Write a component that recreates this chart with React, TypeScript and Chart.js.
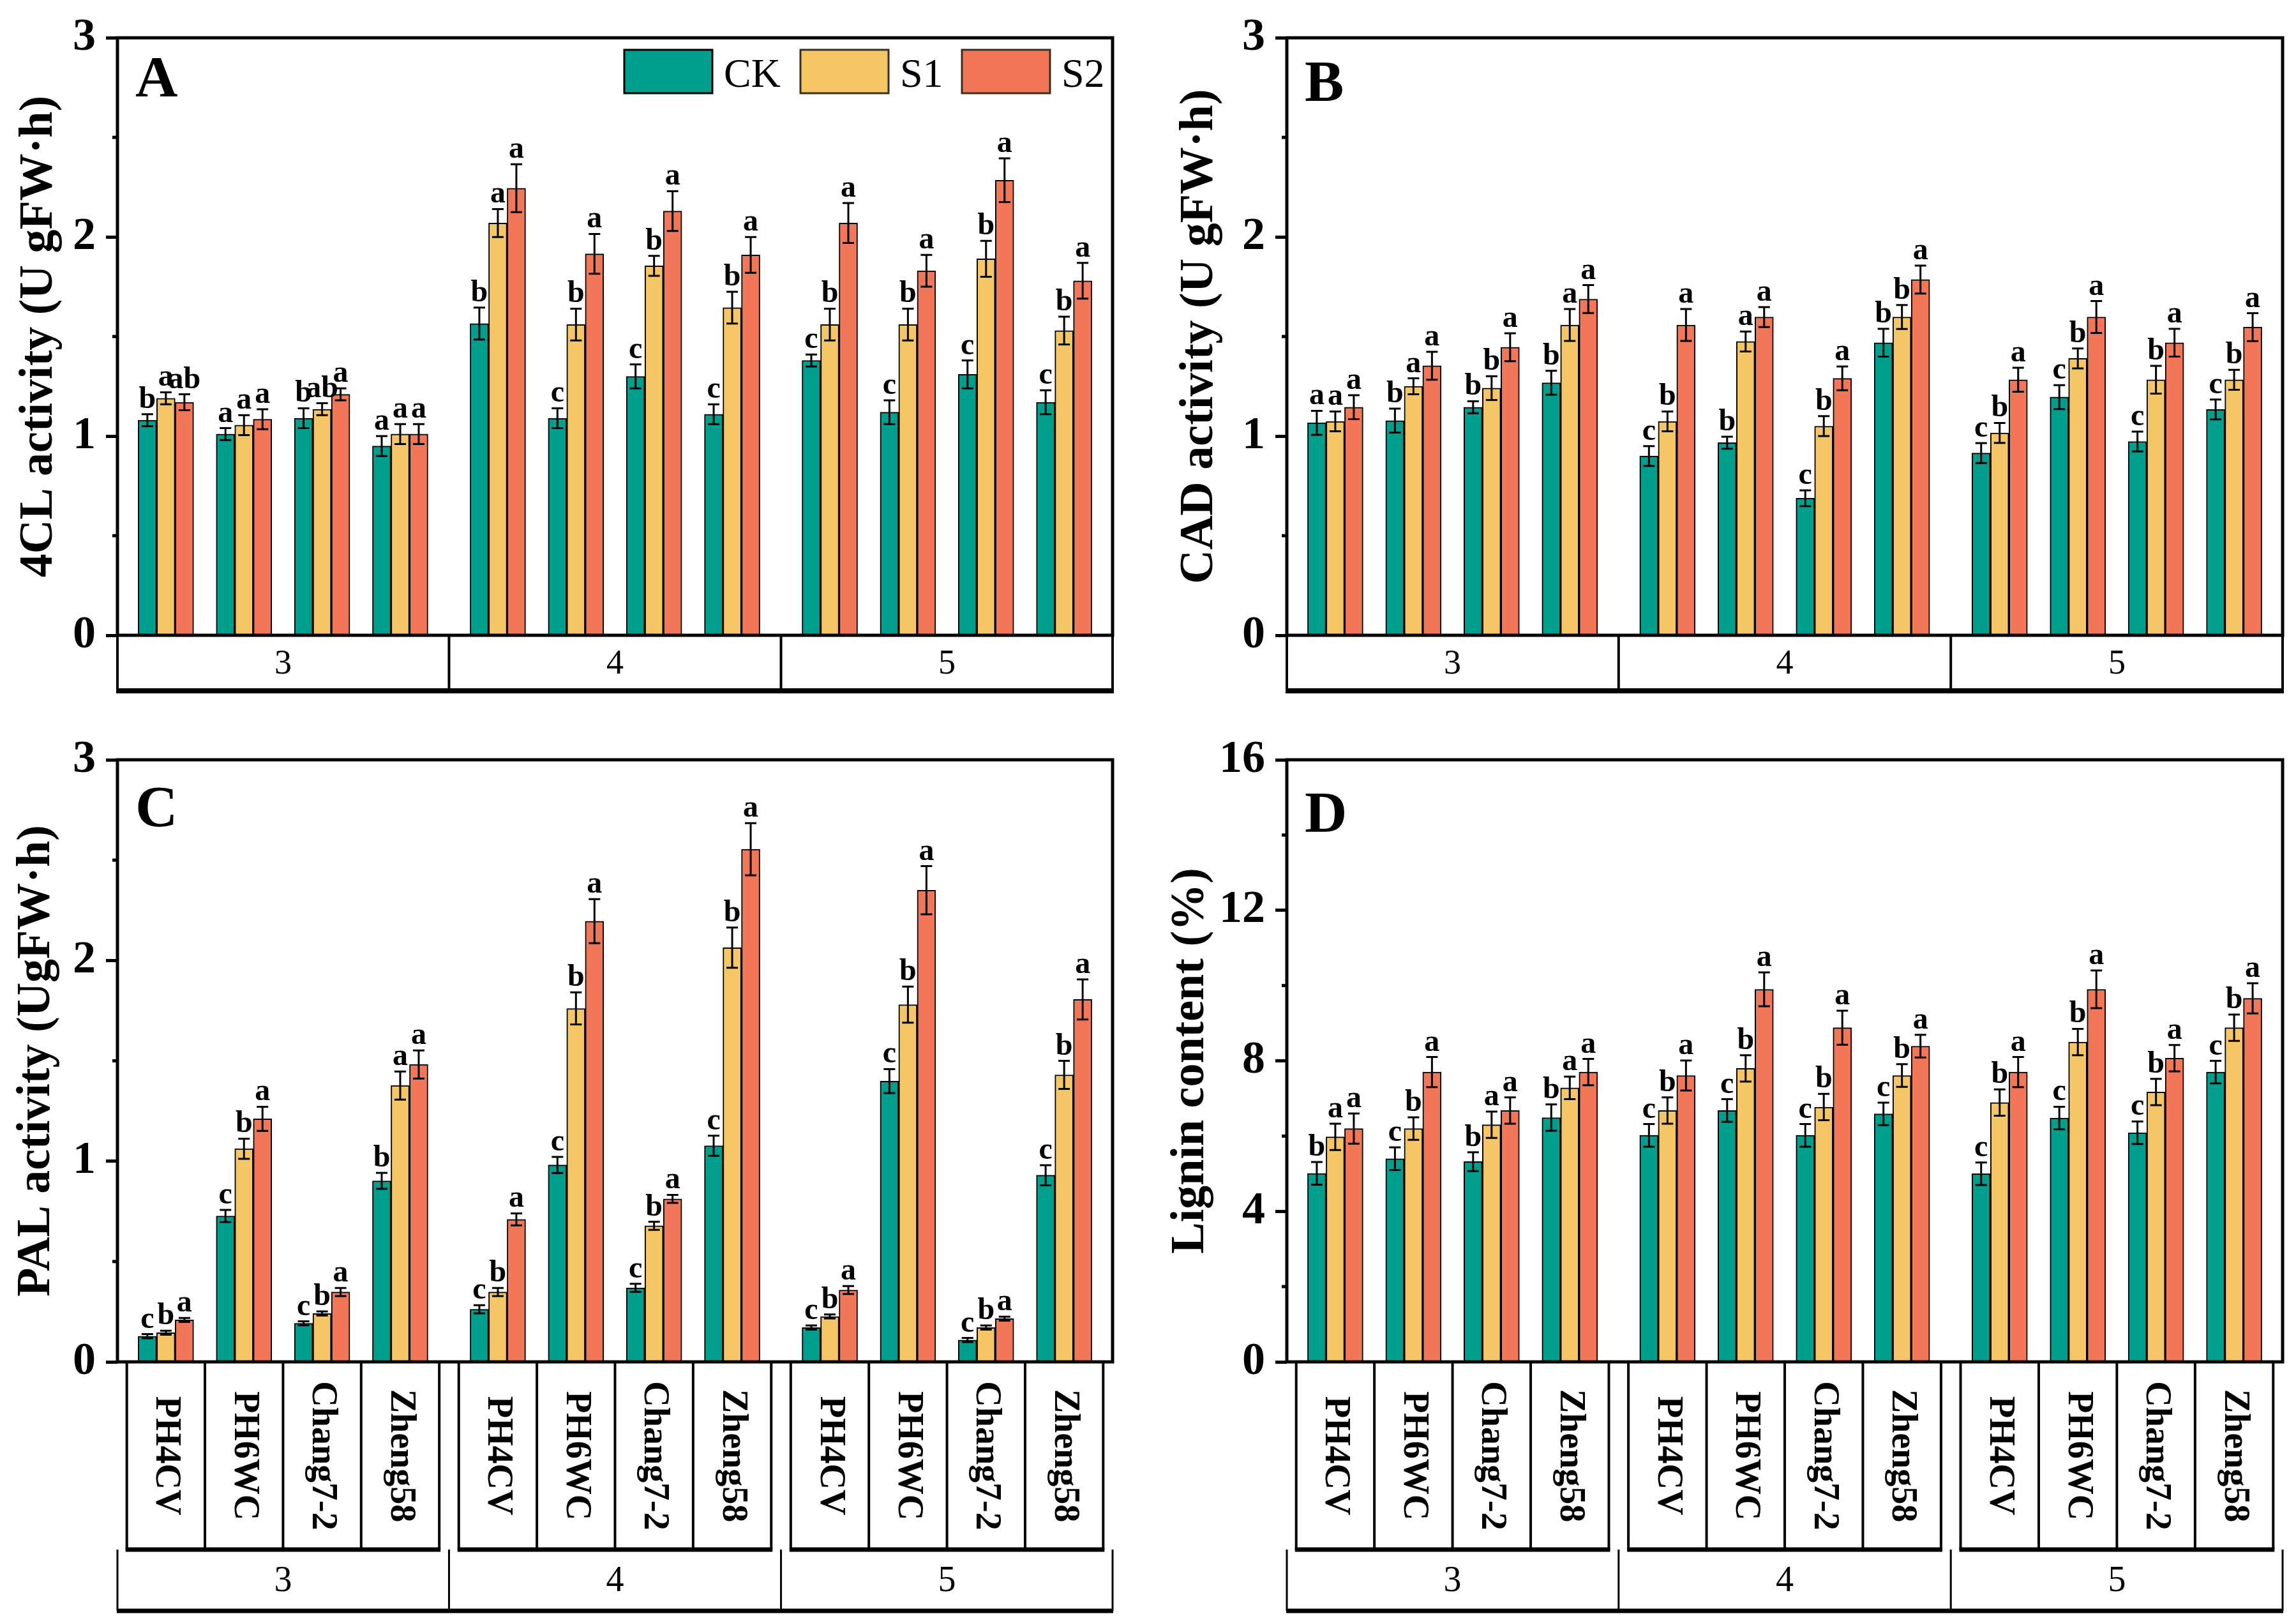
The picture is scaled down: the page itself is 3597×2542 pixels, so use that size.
import React, { useEffect, useRef } from 'react';
import { Chart, registerables } from 'chart.js';

Chart.register(...registerables);

// ---------- data ----------
const groups = ['3', '4', '5'];
const varieties = ['PH4CV', 'PH6WC', 'Chang7-2', 'Zheng58'];
const seriesNames = ['CK', 'S1', 'S2'];
const seriesColors = ['#009E8C', '#F5C665', '#F27758'];

// A: 4CL activity
const cl4CK = [1.08, 1.01, 1.09, 0.95, 1.565, 1.09, 1.3, 1.11, 1.38, 1.12, 1.31, 1.17];
const cl4S1 = [1.19, 1.055, 1.135, 1.01, 2.07, 1.56, 1.855, 1.645, 1.56, 1.56, 1.89, 1.53];
const cl4S2 = [1.17, 1.085, 1.21, 1.01, 2.245, 1.915, 2.13, 1.91, 2.07, 1.83, 2.285, 1.78];
const cl4CKErr = [0.03, 0.03, 0.05, 0.05, 0.08, 0.05, 0.06, 0.05, 0.03, 0.06, 0.07, 0.06];
const cl4S1Err = [0.03, 0.05, 0.03, 0.05, 0.07, 0.08, 0.05, 0.08, 0.08, 0.08, 0.09, 0.07];
const cl4S2Err = [0.04, 0.05, 0.03, 0.05, 0.12, 0.1, 0.1, 0.09, 0.1, 0.08, 0.11, 0.09];
const cl4CKSig = ['b', 'a', 'b', 'a', 'b', 'c', 'c', 'c', 'c', 'c', 'c', 'c'];
const cl4S1Sig = ['a', 'a', 'ab', 'a', 'a', 'b', 'b', 'b', 'b', 'b', 'b', 'b'];
const cl4S2Sig = ['ab', 'a', 'a', 'a', 'a', 'a', 'a', 'a', 'a', 'a', 'a', 'a'];

// B: CAD activity
const cadCK = [1.067, 1.078, 1.145, 1.268, 0.9, 0.967, 0.688, 1.469, 0.915, 1.196, 0.973, 1.134];
const cadS1 = [1.074, 1.25, 1.241, 1.558, 1.074, 1.475, 1.05, 1.598, 1.016, 1.39, 1.283, 1.283];
const cadS2 = [1.145, 1.353, 1.446, 1.688, 1.558, 1.598, 1.29, 1.786, 1.283, 1.598, 1.469, 1.547];
const cadCKErr = [0.06, 0.06, 0.03, 0.06, 0.05, 0.03, 0.04, 0.07, 0.05, 0.06, 0.05, 0.05];
const cadS1Err = [0.05, 0.04, 0.06, 0.08, 0.05, 0.05, 0.05, 0.06, 0.05, 0.05, 0.07, 0.05];
const cadS2Err = [0.06, 0.07, 0.07, 0.07, 0.08, 0.05, 0.06, 0.07, 0.06, 0.08, 0.07, 0.07];
const cadCKSig = ['a', 'b', 'b', 'b', 'c', 'b', 'c', 'b', 'c', 'c', 'c', 'c'];
const cadS1Sig = ['a', 'a', 'b', 'a', 'b', 'a', 'b', 'b', 'b', 'b', 'b', 'b'];
const cadS2Sig = ['a', 'a', 'a', 'a', 'a', 'a', 'a', 'a', 'a', 'a', 'a', 'a'];

// C: PAL activity
const palCK = [0.128, 0.727, 0.192, 0.902, 0.262, 0.981, 0.369, 1.077, 0.171, 1.399, 0.109, 0.93];
const palS1 = [0.145, 1.062, 0.241, 1.377, 0.348, 1.761, 0.678, 2.064, 0.226, 1.78, 0.171, 1.43];
const palS2 = [0.209, 1.211, 0.348, 1.482, 0.71, 2.196, 0.812, 2.554, 0.358, 2.35, 0.215, 1.806];
const palCKErr = [0.01, 0.03, 0.01, 0.04, 0.02, 0.04, 0.02, 0.05, 0.01, 0.06, 0.01, 0.05];
const palS1Err = [0.01, 0.05, 0.01, 0.07, 0.02, 0.08, 0.02, 0.1, 0.01, 0.09, 0.01, 0.07];
const palS2Err = [0.01, 0.06, 0.02, 0.07, 0.03, 0.11, 0.02, 0.13, 0.02, 0.12, 0.01, 0.1];
const palCKSig = ['c', 'c', 'c', 'b', 'c', 'c', 'c', 'c', 'c', 'c', 'c', 'c'];
const palS1Sig = ['b', 'b', 'b', 'a', 'b', 'b', 'b', 'b', 'b', 'b', 'b', 'b'];
const palS2Sig = ['a', 'a', 'a', 'a', 'a', 'a', 'a', 'a', 'a', 'a', 'a', 'a'];

// D: Lignin content
const ligCK = [5.01, 5.4, 5.32, 6.49, 6.02, 6.68, 6.02, 6.59, 5.0, 6.48, 6.09, 7.7];
const ligS1 = [5.98, 6.2, 6.3, 7.28, 6.68, 7.8, 6.77, 7.61, 6.89, 8.5, 7.17, 8.88];
const ligS2 = [6.2, 7.7, 6.68, 7.7, 7.61, 9.9, 8.88, 8.39, 7.7, 9.9, 8.07, 9.66];
const ligCKErr = [0.3, 0.3, 0.25, 0.35, 0.3, 0.3, 0.3, 0.3, 0.3, 0.3, 0.3, 0.3];
const ligS1Err = [0.35, 0.3, 0.35, 0.3, 0.35, 0.35, 0.35, 0.3, 0.35, 0.35, 0.35, 0.35];
const ligS2Err = [0.4, 0.4, 0.35, 0.35, 0.4, 0.45, 0.45, 0.3, 0.4, 0.5, 0.35, 0.4];
const ligCKSig = ['b', 'c', 'b', 'b', 'c', 'c', 'c', 'c', 'c', 'c', 'c', 'c'];
const ligS1Sig = ['a', 'b', 'a', 'a', 'b', 'b', 'b', 'b', 'b', 'b', 'b', 'b'];
const ligS2Sig = ['a', 'a', 'a', 'a', 'a', 'a', 'a', 'a', 'a', 'a', 'a', 'a'];

// ---------- layout ----------
const SERIF = '"Liberation Serif", "Times New Roman", serif';
const GAP = 0.25;
const NV = varieties.length;
const xPos = (i: number) => Math.floor(i / NV) * (NV + GAP) + (i % NV);

interface Panel {
  label: string;
  title: string;
  values: number[][];
  errors: number[][];
  letters: string[][];
  yMax: number;
  minorStep: number;
  majorStep: number;
  canvas: { left: number; top: number; width: number; height: number };
  area: { left: number; top: number; right: number; bottom: number };
  detailed: boolean;
  legend: boolean;
  titleX: number;
  labelDy: number;
}

const panels: Panel[] = [
  {
    label: 'A', title: '4CL activity (U gFW·h)',
    values: [cl4CK, cl4S1, cl4S2], errors: [cl4CKErr, cl4S1Err, cl4S2Err], letters: [cl4CKSig, cl4S1Sig, cl4S2Sig],
    yMax: 3, minorStep: 0.5, majorStep: 1,
    canvas: { left: 0, top: 0, width: 1800, height: 1100 },
    area: { left: 184, top: 54, right: 1743, bottom: 995 },
    detailed: false, legend: true, titleX: 62, labelDy: 92,
  },
  {
    label: 'B', title: 'CAD activity (U gFW·h)',
    values: [cadCK, cadS1, cadS2], errors: [cadCKErr, cadS1Err, cadS2Err], letters: [cadCKSig, cadS1Sig, cadS2Sig],
    yMax: 3, minorStep: 0.5, majorStep: 1,
    canvas: { left: 1800, top: 0, width: 1797, height: 1100 },
    area: { left: 216, top: 54, right: 1776, bottom: 995 },
    detailed: false, legend: false, titleX: 80, labelDy: 99,
  },
  {
    label: 'C', title: 'PAL activity (UgFW·h)',
    values: [palCK, palS1, palS2], errors: [palCKErr, palS1Err, palS2Err], letters: [palCKSig, palS1Sig, palS2Sig],
    yMax: 3, minorStep: 0.5, majorStep: 1,
    canvas: { left: 0, top: 1100, width: 1800, height: 1442 },
    area: { left: 184, top: 90, right: 1743, bottom: 1033 },
    detailed: true, legend: false, titleX: 58, labelDy: 104,
  },
  {
    label: 'D', title: 'Lignin content (%)',
    values: [ligCK, ligS1, ligS2], errors: [ligCKErr, ligS1Err, ligS2Err], letters: [ligCKSig, ligS1Sig, ligS2Sig],
    yMax: 16, minorStep: 2, majorStep: 4,
    canvas: { left: 1800, top: 1100, width: 1797, height: 1442 },
    area: { left: 216, top: 90, right: 1776, bottom: 1033 },
    detailed: true, legend: false, titleX: 66, labelDy: 113,
  },
];

const isMajor = (v: number, step: number) => Math.abs(v / step - Math.round(v / step)) < 1e-6;

function decorPlugin(p: Panel) {
  return {
    id: 'decor' + p.label,
    afterDatasetsDraw(chart: any) {
      const ctx = chart.ctx;
      const ys = chart.scales.y;
      ctx.save();
      ctx.strokeStyle = '#000';
      ctx.fillStyle = '#000';
      ctx.lineWidth = 3;
      ctx.font = `bold 48px ${SERIF}`;
      ctx.textAlign = 'center';
      ctx.textBaseline = 'alphabetic';
      p.values.forEach((vals, d) => {
        const meta = chart.getDatasetMeta(d);
        vals.forEach((v, i) => {
          const bar = meta.data[i];
          if (!bar) return;
          const e = p.errors[d][i];
          const x = bar.x;
          const yt = ys.getPixelForValue(v + e);
          const yb = ys.getPixelForValue(Math.max(0, v - e));
          ctx.beginPath();
          ctx.moveTo(x, yt); ctx.lineTo(x, yb);
          ctx.moveTo(x - 9, yt); ctx.lineTo(x + 9, yt);
          ctx.moveTo(x - 9, yb); ctx.lineTo(x + 9, yb);
          ctx.stroke();
          ctx.fillText(p.letters[d][i], x, yt - 10);
        });
      });
      ctx.restore();
    },
    afterDraw(chart: any) {
      const ctx = chart.ctx;
      const xs = chart.scales.x;
      const ys = chart.scales.y;
      const { left, right, top, bottom } = chart.chartArea;
      const px = (v: number) => xs.getPixelForValue(v);
      ctx.save();
      ctx.strokeStyle = '#000';
      ctx.fillStyle = '#000';

      // frame
      ctx.lineWidth = 5;
      ctx.strokeRect(left, top, right - left, bottom - top);

      // minor ticks
      for (let v = 0; v <= p.yMax + 1e-9; v += p.minorStep) {
        if (isMajor(v, p.majorStep)) continue;
        const y = ys.getPixelForValue(v);
        ctx.beginPath();
        ctx.moveTo(left - 8, y); ctx.lineTo(left, y);
        ctx.stroke();
      }

      // category boxes
      const nG = groups.length;
      if (!p.detailed) {
        const bh = 87;
        ctx.lineWidth = 4;
        ctx.beginPath();
        ctx.moveTo(left, bottom); ctx.lineTo(left, bottom + bh);
        ctx.moveTo(right, bottom); ctx.lineTo(right, bottom + bh);
        for (let g = 1; g < nG; g++) {
          const xb = px((xPos(g * NV - 1) + xPos(g * NV)) / 2);
          ctx.moveTo(xb, bottom); ctx.lineTo(xb, bottom + bh);
        }
        ctx.stroke();
        ctx.lineWidth = 8;
        ctx.beginPath(); ctx.moveTo(left - 2, bottom + bh); ctx.lineTo(right + 2, bottom + bh); ctx.stroke();
        ctx.font = `54px ${SERIF}`;
        ctx.textAlign = 'center';
        ctx.textBaseline = 'middle';
        groups.forEach((g, gi) => {
          const cx = px((xPos(gi * NV) + xPos(gi * NV + NV - 1)) / 2);
          ctx.fillText(g, cx, bottom + bh / 2 + 2);
        });
      } else {
        const vh = 294, gh = 96;
        groups.forEach((g, gi) => {
          const x0 = px(xPos(gi * NV) - 0.5);
          const x1 = px(xPos(gi * NV + NV - 1) + 0.5);
          ctx.lineWidth = 4;
          ctx.beginPath();
          ctx.moveTo(x0, bottom); ctx.lineTo(x0, bottom + vh);
          ctx.moveTo(x1, bottom); ctx.lineTo(x1, bottom + vh);
          for (let k = 0; k < NV - 1; k++) {
            const xd = px(xPos(gi * NV + k) + 0.5);
            ctx.moveTo(xd, bottom); ctx.lineTo(xd, bottom + vh);
          }
          ctx.stroke();
          ctx.lineWidth = 7;
          ctx.beginPath(); ctx.moveTo(x0 - 2, bottom + vh); ctx.lineTo(x1 + 2, bottom + vh); ctx.stroke();
          ctx.font = `bold 56px ${SERIF}`;
          ctx.textAlign = 'center';
          ctx.textBaseline = 'middle';
          varieties.forEach((name, k) => {
            const cx = px(xPos(gi * NV + k));
            ctx.save();
            ctx.translate(cx, bottom + vh / 2);
            ctx.rotate(Math.PI / 2);
            ctx.fillText(name, 0, 0);
            ctx.restore();
          });
        });
        // group box
        const gy = bottom + vh;
        ctx.lineWidth = 3;
        ctx.beginPath();
        ctx.moveTo(left, gy); ctx.lineTo(left, gy + gh);
        ctx.moveTo(right, gy); ctx.lineTo(right, gy + gh);
        for (let g = 1; g < nG; g++) {
          const xb = px((xPos(g * NV - 1) + xPos(g * NV)) / 2);
          ctx.moveTo(xb, gy); ctx.lineTo(xb, gy + gh);
        }
        ctx.stroke();
        ctx.lineWidth = 7;
        ctx.beginPath(); ctx.moveTo(left - 1, gy + gh); ctx.lineTo(right + 1, gy + gh); ctx.stroke();
        ctx.font = `56px ${SERIF}`;
        ctx.textAlign = 'center';
        ctx.textBaseline = 'middle';
        groups.forEach((g, gi) => {
          const cx = px((xPos(gi * NV) + xPos(gi * NV + NV - 1)) / 2);
          ctx.fillText(g, cx, gy + gh / 2 + 2);
        });
      }

      // panel letter
      ctx.font = `bold 92px ${SERIF}`;
      ctx.textAlign = 'left';
      ctx.textBaseline = 'alphabetic';
      ctx.fillText(p.label, left + 28, top + p.labelDy);

      // y title
      ctx.save();
      ctx.translate(p.titleX, (top + bottom) / 2);
      ctx.rotate(-Math.PI / 2);
      ctx.font = `bold 74px ${SERIF}`;
      ctx.textAlign = 'center';
      ctx.textBaseline = 'middle';
      ctx.fillText(p.title, 0, 0);
      ctx.restore();

      // legend
      if (p.legend) {
        const boxL = [978, 1254, 1507];
        const bw = 138, bh = 68, by = 78;
        ctx.font = `64px ${SERIF}`;
        ctx.textAlign = 'left';
        ctx.textBaseline = 'alphabetic';
        seriesNames.forEach((n, i) => {
          ctx.fillStyle = seriesColors[i];
          ctx.fillRect(boxL[i], by, bw, bh);
          ctx.lineWidth = 3;
          ctx.strokeStyle = i === 0 ? '#000' : '#3a3020';
          ctx.strokeRect(boxL[i], by, bw, bh);
          ctx.fillStyle = '#000';
          ctx.fillText(n, boxL[i] + bw + 18, by + bh - 10);
        });
      }
      ctx.restore();
    },
  };
}

function PanelChart({ p }: { p: Panel }) {
  const ref = useRef<HTMLCanvasElement | null>(null);
  useEffect(() => {
    if (!ref.current) return;
    const { width, height } = p.canvas;
    const a = p.area;
    const nPts = p.values[0].length;
    const lastX = xPos(nPts - 1);
    const chart = new Chart(ref.current, {
      type: 'bar',
      data: {
        datasets: seriesNames.map((n, d) => ({
          label: n,
          data: p.values[d].map((v, i) => ({ x: xPos(i), y: v })),
          backgroundColor: seriesColors[d],
          borderColor: '#000',
          borderWidth: 2,
          barThickness: 29,
        })),
      },
      options: {
        responsive: false,
        animation: false,
        devicePixelRatio: 1,
        layout: { padding: { left: 0, top: a.top, right: width - a.right, bottom: height - a.bottom } },
        plugins: { legend: { display: false }, tooltip: { enabled: false }, title: { display: false } },
        scales: {
          x: { type: 'linear', display: false, min: -0.62, max: lastX + 0.62, offset: false },
          y: {
            min: 0,
            max: p.yMax,
            afterFit: (s: any) => { s.width = a.left; },
            ticks: {
              stepSize: p.minorStep,
              autoSkip: false,
              padding: 16,
              color: '#000',
              font: { family: SERIF, weight: 'bold', size: 72 },
              callback: (v: any) => (isMajor(Number(v), p.majorStep) ? String(v) : ''),
            },
            grid: {
              drawOnChartArea: false,
              drawTicks: true,
              tickLength: 18,
              tickWidth: 5,
              tickColor: (c: any) => (c.tick && isMajor(c.tick.value, p.majorStep) ? '#000' : 'rgba(0,0,0,0)'),
            },
            border: { display: false },
          },
        },
      } as any,
      plugins: [decorPlugin(p)],
    });
    return () => chart.destroy();
  }, [p]);
  return (
    <canvas
      ref={ref}
      width={p.canvas.width}
      height={p.canvas.height}
      style={{ position: 'absolute', left: p.canvas.left, top: p.canvas.top, width: p.canvas.width, height: p.canvas.height }}
    />
  );
}

export default function App() {
  useEffect(() => {
    document.body.style.margin = '0';
    document.body.style.background = '#fff';
  }, []);
  return (
    <div style={{ position: 'relative', width: 3597, height: 2542, background: '#fff', overflow: 'hidden' }}>
      {panels.map((p) => (
        <PanelChart key={p.label} p={p} />
      ))}
    </div>
  );
}
